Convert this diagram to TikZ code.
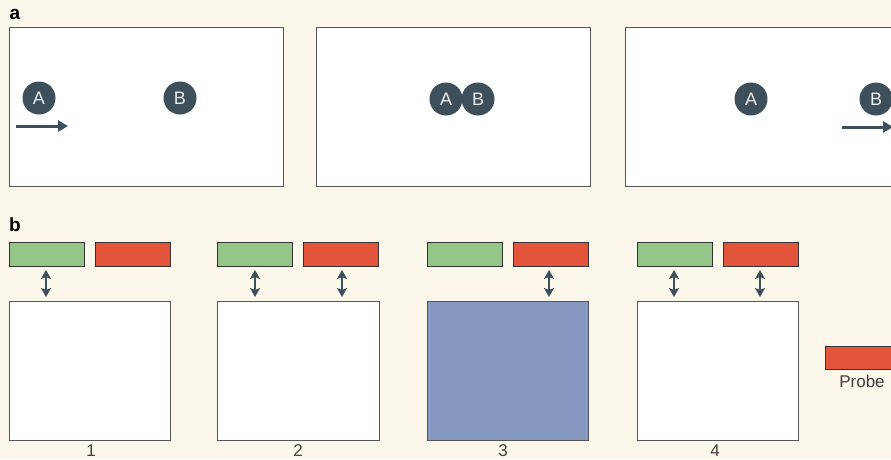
\documentclass[tikz,border=0pt]{standalone}
\usepackage{fontspec}
\setmainfont{Liberation Sans}
\usetikzlibrary{arrows.meta}
\definecolor{bg}{HTML}{FCF7EB}
\definecolor{dot}{HTML}{3D4F5A}
\definecolor{grn}{HTML}{93C589}
\definecolor{rd}{HTML}{E2553B}
\definecolor{blu}{HTML}{8799C1}
\definecolor{edge}{HTML}{555555}
\tikzset{
  panel/.style={draw=edge, line width=1pt, fill=white},
  particle/.style={circle, fill=dot, minimum size=33pt, inner sep=0pt, text=white!90!dot, font=\fontsize{18}{18}\selectfont},
  bar/.style={draw=black!80, line width=0.8pt},
  dbl/.style={{Stealth[length=9pt,width=10pt,inset=2pt]}-{Stealth[length=9pt,width=10pt,inset=2pt]}, draw=dot, line width=2.6pt},
  mv/.style={-{Stealth[length=10pt,width=11pt,inset=0pt]}, draw=dot, line width=3pt},
  lbl/.style={font=\fontsize{17}{17}\selectfont, text=black!75},
  tag/.style={font=\bfseries\fontsize{19}{19}\selectfont}
}
\begin{document}
\begin{tikzpicture}[x=1pt,y=-1pt]
\useasboundingbox (0,0) rectangle (891,459);
\fill[bg] (0,0) rectangle (891,459);
\clip (0,0) rectangle (891,459);
% panel a
\node[tag] (ta) at (15,14) {a};
\draw[panel] (9,27) rectangle (283,186);
\draw[panel] (316,27) rectangle (590,186);
\draw[panel] (625,27) rectangle (899,186);
\node[particle] (a1) at (39,98) {A};
\node[particle] (b1) at (180,98) {B};
\coordinate (s1) at (16,126); \coordinate (e1) at (68,126);
\draw[mv] (s1) -- (e1);
\node[particle] (a2) at (446,99) {A};
\node[particle] (b2) at (478,99) {B};
\node[particle] (a3) at (751,99) {A};
\node[particle] (b3) at (876,99) {B};
\coordinate (s3) at (842,127); \coordinate (e3) at (893,127);
\draw[mv] (s3) -- (e3);
% panel b
\node[tag] (tb) at (15,225) {b};
\foreach \x/\n in {9/1,217/2,427/3,637/4}{
  \draw[bar, fill=grn] (\x,242) rectangle ++(75,24);
  \draw[bar, fill=rd] (\x+86,242) rectangle ++(75,24);
}
\draw[panel] (9,301) rectangle (170,440);
\draw[panel] (217,301) rectangle (379,440);
\draw[panel, fill=blu] (427,301) rectangle (588,440);
\draw[panel] (637,301) rectangle (798,440);
\node[lbl] (n1) at (91,451) {1};
\node[lbl] (n2) at (298,451) {2};
\node[lbl] (n3) at (503,451) {3};
\node[lbl] (n4) at (715,451) {4};
\foreach \x in {46,255,342,549,674,760}{
  \draw[dbl] (\x,270) -- (\x,297);
}
\draw[bar, fill=rd] (825,346) rectangle (900,369);
\node[lbl] (probe) at (862,381) {Probe};
\end{tikzpicture}
\end{document}
